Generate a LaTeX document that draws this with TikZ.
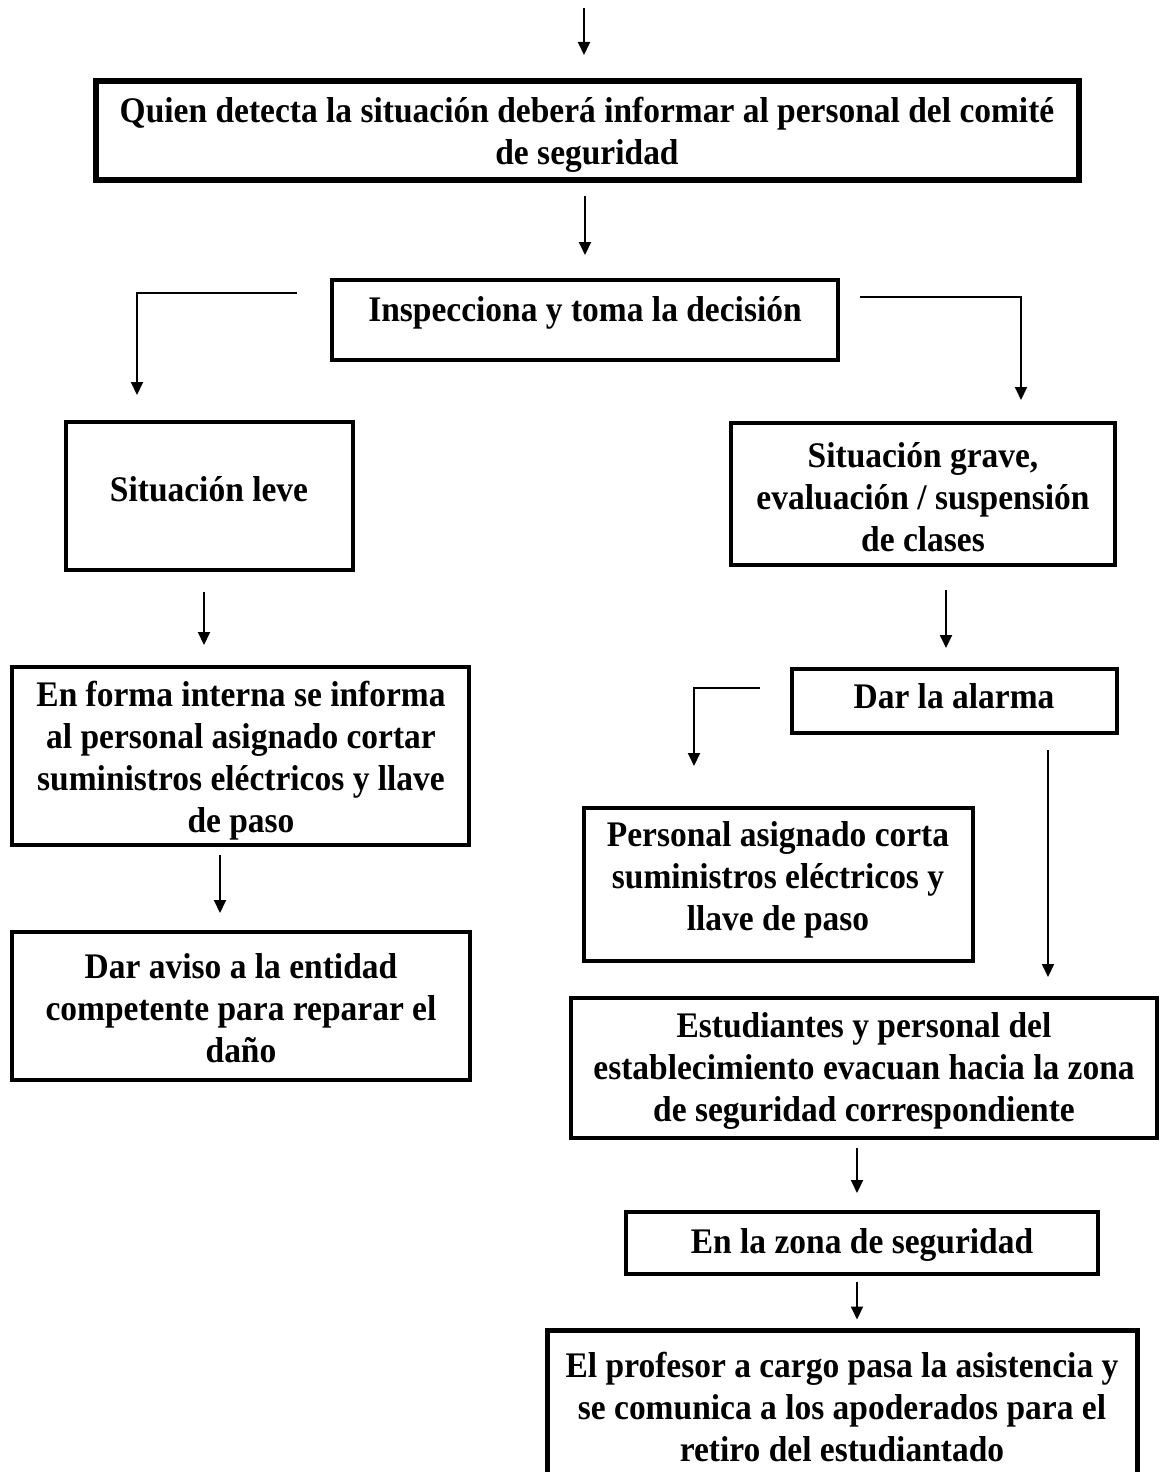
\documentclass[tikz,border=0pt]{standalone}
\usepackage{fontspec}
\setmainfont{Liberation Serif}[FakeStretch=0.93]
\usetikzlibrary{calc,arrows.meta}
\tikzset{
  box/.style={draw=black, line width=4pt, inner sep=0pt, fill=none},
  thickbox/.style={box, line width=6pt},
  txt/.style={align=center, inner sep=0pt, font=\fontsize{36}{42}\selectfont\bfseries},
  arr/.style={draw=black, line width=2pt, -{Triangle[length=13pt,width=12pt]}},
}
\begin{document}
\begin{tikzpicture}[x=1pt,y=-1pt]
\clip (0,0) rectangle (1159,1472);
% boxes
\node[thickbox, minimum width=983pt, minimum height=99pt] (b1) at (587.5,130.5) {};
\node[box, minimum width=506pt, minimum height=80pt] (insp) at (585,320) {};
\node[box, minimum width=287pt, minimum height=148pt] (leve) at (209.5,496) {};
\node[box, minimum width=384pt, minimum height=142pt] (grave) at (923,494) {};
\node[box, minimum width=457pt, minimum height=178pt] (interna) at (240.5,756) {};
\node[box, minimum width=458pt, minimum height=148pt] (aviso) at (241,1006) {};
\node[box, minimum width=325pt, minimum height=64pt] (alarma) at (954.5,701) {};
\node[box, minimum width=389pt, minimum height=153pt] (personal) at (778.5,884.5) {};
\node[box, minimum width=586pt, minimum height=140pt] (estud) at (864,1068) {};
\node[box, minimum width=472pt, minimum height=62pt] (zona) at (862,1243) {};
\node[box, line width=5pt, minimum width=590pt, minimum height=160pt] (prof) at (842.5,1410) {};
% texts
\node[txt] (t1) at (587,135) {Quien detecta la situación deberá informar al personal del comité\\de seguridad};
\node[txt] (t2) at (585,313) {Inspecciona y toma la decisión};
\node[txt] (t3) at (209,489) {Situación leve};
\node[txt] (t4) at (923,497) {Situación grave,\\evaluación / suspensión\\de clases};
\node[txt] (t5) at (241,761) {En forma interna se informa\\al personal asignado cortar\\suministros eléctricos y llave\\de paso};
\node[txt] (t6) at (241,1008) {Dar aviso a la entidad\\competente para reparar el\\daño};
\node[txt] (t7) at (954,696) {Dar la alarma};
\node[txt] (t8) at (778,880) {Personal asignado corta\\suministros eléctricos y\\llave de paso};
\node[txt] (t9) at (864,1071) {Estudiantes y personal del\\establecimiento evacuan hacia la zona\\de seguridad correspondiente};
\node[txt] (t10) at (862,1245) {En la zona de seguridad};
\node[txt] (t11) at (842,1407) {El profesor a cargo pasa la asistencia y\\se comunica a los apoderados para el\\retiro del estudiantado};
% connectors
\coordinate (top0) at (584,8);
\draw[arr] (top0) -- ($(b1.north)+(-3.5,-23)$);
\draw[arr, shorten <=13pt, shorten >=23pt] (b1.south -| insp.north) -- (insp.north);
\draw[arr] ($(insp.north west)+(-33,15)$) -| ($(leve.north west)+(73,-25)$);
\draw[arr] ($(insp.north east)+(20,19)$) -| ($(grave.north west)+(292,-21)$);
\draw[arr, shorten <=20pt, shorten >=20pt] ([xshift=-5.5pt]leve.south) -- ([xshift=-5.5pt]leve.south |- interna.north);
\draw[arr, shorten <=8pt, shorten >=17pt] ([xshift=-20.5pt]interna.south) -- ([xshift=-20.5pt]interna.south |- aviso.north);
\draw[arr, shorten <=23pt, shorten >=19pt] ([xshift=23pt]grave.south) -- ([xshift=23pt]grave.south |- alarma.north);
\draw[arr] ($(alarma.north west)+(-30,21)$) -| ($(personal.north west)+(112,-40)$);
\draw[arr, shorten <=15pt, shorten >=19pt] ([xshift=93.5pt]alarma.south) -- ([xshift=93.5pt]alarma.south |- estud.north);
\draw[arr, shorten <=8pt, shorten >=17pt] ([xshift=-7pt]estud.south) -- ([xshift=-7pt]estud.south |- zona.north);
\draw[arr, shorten <=6pt, shorten >=8pt] ([xshift=-5pt]zona.south) -- ([xshift=-5pt]zona.south |- prof.north);
\end{tikzpicture}
\end{document}
